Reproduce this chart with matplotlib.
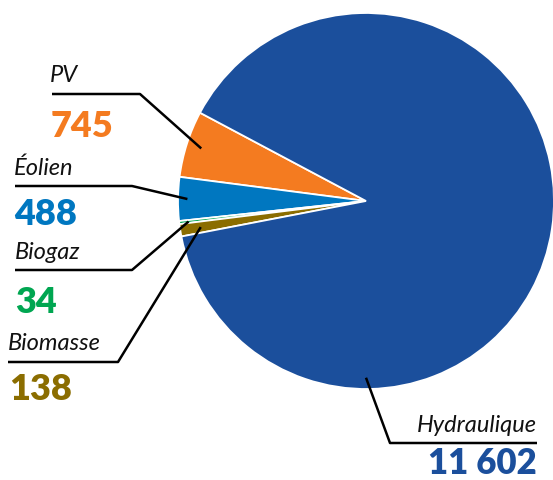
import numpy as np
import matplotlib.pyplot as plt

# Data
labels = ['PV', 'Éolien', 'Biogaz', 'Biomasse', 'Hydraulique']
values = [745, 488, 34, 138, 11602]
value_text = ['745', '488', '34', '138', '11 602']
colors = ['#f47b20', '#0077c0', '#00a651', '#8b6d00', '#1b4f9c']

W, H = 553, 481
fig = plt.figure(figsize=(W / 100, H / 100), dpi=100)
ax = fig.add_axes([0, 0, 1, 1])
ax.axis('off')

cx, cy, R = 366, H - 202, 188
wedges, _ = ax.pie(values, colors=colors, startangle=152, counterclock=True,
                   center=(cx, cy), radius=R,
                   wedgeprops=dict(edgecolor='white', linewidth=1.3))
ax.set_xlim(0, W)
ax.set_ylim(0, H)
ax.set_aspect('equal')

# label layout (pixel coords from the top)
lay = {
    'PV':          dict(tx=50, ty=82, ly=95, x0=52, xe=140, num=(51, 137), fr=0.92, ang=None, ha='left'),
    'Éolien':      dict(tx=14, ty=175, ly=187, x0=15, xe=132, num=(14, 225), fr=0.95, ang=None, ha='left'),
    'Biogaz':      dict(tx=15, ty=259, ly=271, x0=15, xe=132, num=(15, 313), fr=0.95, ang=None, ha='left'),
    'Biomasse':    dict(tx=8, ty=350, ly=363, x0=8, xe=118, num=(9, 400), fr=0.89, ang=None, ha='left'),
    'Hydraulique': dict(tx=537, ty=432, ly=444, x0=537, xe=390, num=(537, 476), fr=0.94, ang=270, ha='right'),
}

for w, lab, vt, col in zip(wedges, labels, value_text, colors):
    L = lay[lab]
    a = L['ang'] if L['ang'] is not None else (w.theta1 + w.theta2) / 2
    mid = np.deg2rad(a)
    px = cx + L['fr'] * R * np.cos(mid)
    py = cy + L['fr'] * R * np.sin(mid)
    ly = H - L['ly']
    ax.plot([L['x0'], L['xe'], px], [ly, ly, py], color='black', lw=1.8,
            solid_capstyle='butt', zorder=5)
    ax.text(L['tx'], H - L['ty'], lab, fontsize=17, style='italic',
            family='Lato', ha=L['ha'], va='baseline', color='#111111')
    if lab == 'Hydraulique':
        # keep the whole text box inside the figure
        ax.text(L['num'][0], 1, vt, fontsize=25, fontweight='heavy',
                family='Lato', ha=L['ha'], va='bottom', color=col)
    else:
        ax.text(L['num'][0], H - L['num'][1], vt, fontsize=26, fontweight='heavy',
                family='Lato', ha=L['ha'], va='baseline', color=col)

fig.savefig('out.png', dpi=100)
